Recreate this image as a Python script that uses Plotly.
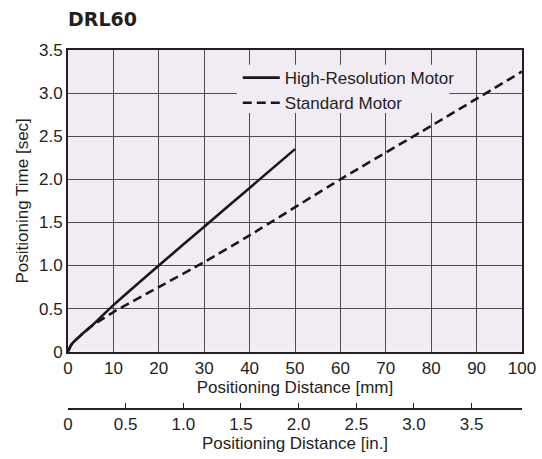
import plotly.graph_objects as go

# Data
hi_x = [0, 0.5, 1, 2, 3, 5, 7, 10, 20, 30, 40, 50]
hi_y = [0, 0.06, 0.10, 0.15, 0.20, 0.29, 0.39, 0.54, 1.0, 1.45, 1.9, 2.35]
std_x = [0, 0.5, 1, 2, 3, 5, 7, 10, 20, 30, 40, 60, 80, 100]
std_y = [0, 0.06, 0.10, 0.15, 0.20, 0.29, 0.36, 0.46, 0.75, 1.04, 1.35, 2.0, 2.62, 3.25]

mm_ticks = [0, 10, 20, 30, 40, 50, 60, 70, 80, 90, 100]
y_ticks = [0, 0.5, 1.0, 1.5, 2.0, 2.5, 3.0, 3.5]
y_labels = ["0", "0.5", "1.0", "1.5", "2.0", "2.5", "3.0", "3.5"]
in_ticks = [0, 0.5, 1.0, 1.5, 2.0, 2.5, 3.0, 3.5]
in_labels = ["0", "0.5", "1.0", "1.5", "2.0", "2.5", "3.0", "3.5"]
MM_PER_IN = 25.4

FONT = "Liberation Sans, Arial, sans-serif"
TXT = "#231f20"
GRID = "#4d4d4d"
BG = "#f1ecf3"

fig = go.Figure()
fig.add_trace(go.Scatter(x=hi_x, y=hi_y, mode="lines", name="High-Resolution Motor",
                         line=dict(color="#1a1718", width=2.6, shape="spline", smoothing=0.6),
                         hoverinfo="skip"))
fig.add_trace(go.Scatter(x=std_x, y=std_y, mode="lines", name="Standard Motor",
                         line=dict(color="#1a1718", width=2.6, dash="9px,5px",
                                   shape="spline", smoothing=0.6),
                         hoverinfo="skip"))
# dummy trace to attach the inch axis
fig.add_trace(go.Scatter(x=[0, 100 / MM_PER_IN], y=[-5, -5], xaxis="x2", yaxis="y",
                         mode="lines", showlegend=False, hoverinfo="skip",
                         line=dict(color="rgba(0,0,0,0)")))

# background patch behind legend (hides gridlines, stays under the curves)
fig.add_shape(type="rect", xref="x", yref="y", x0=37.2, x1=84.0, y0=2.77, y1=3.33,
              layer="between", fillcolor=BG, line=dict(width=0))

fig.update_layout(
    width=542, height=459,
    margin=dict(l=68, r=20, t=50, b=50, autoexpand=False),
    paper_bgcolor="white",
    plot_bgcolor=BG,
    font=dict(family=FONT, size=16, color=TXT),
    title=dict(text="<b>DRL60</b>", x=0, xref="paper", xanchor="left",
               y=0.958, yref="container", yanchor="middle",
               font=dict(family="DejaVu Sans, sans-serif", size=19, color=TXT)),
    showlegend=True,
    legend=dict(x=0.374, y=0.972, xanchor="left", yanchor="top",
                bgcolor="rgba(0,0,0,0)", borderwidth=0,
                font=dict(family=FONT, size=17, color=TXT),
                itemwidth=37),
    xaxis=dict(range=[0, 100], tickvals=mm_ticks, ticks="", showgrid=True,
               gridcolor=GRID, gridwidth=1.3, zeroline=False, automargin=False,
               showline=True, linecolor="#231f20", linewidth=2, mirror=True,
               tickfont=dict(size=17), anchor="y",
               title=dict(text="Positioning Distance [mm]", standoff=2,
                          font=dict(size=17))),
    yaxis=dict(range=[0, 3.5], tickvals=y_ticks, ticktext=y_labels, ticks="",
               showgrid=True, gridcolor=GRID, gridwidth=1.3, zeroline=False,
               showline=True, linecolor="#231f20", linewidth=2, mirror=True,
               automargin=False,
               domain=[0.1596, 1], tickfont=dict(size=17),
               title=dict(text="Positioning Time [sec]", standoff=6,
                          font=dict(size=17))),
    xaxis2=dict(range=[0, 100 / MM_PER_IN], tickvals=in_ticks, ticktext=in_labels,
                anchor="free", position=0, overlaying="x", side="bottom",
                ticks="inside", ticklen=5, tickwidth=1.3, tickcolor="#231f20",
                showline=True, linecolor="#231f20", linewidth=1.5, automargin=False,
                showgrid=False, zeroline=False, tickfont=dict(size=17),
                title=dict(text="Positioning Distance [in.]", standoff=0,
                           font=dict(size=17))),
)

fig.write_html("out.html",
               config={"displayModeBar": False},
               post_script="document.body.style.margin='0';document.body.style.overflow='hidden';")
